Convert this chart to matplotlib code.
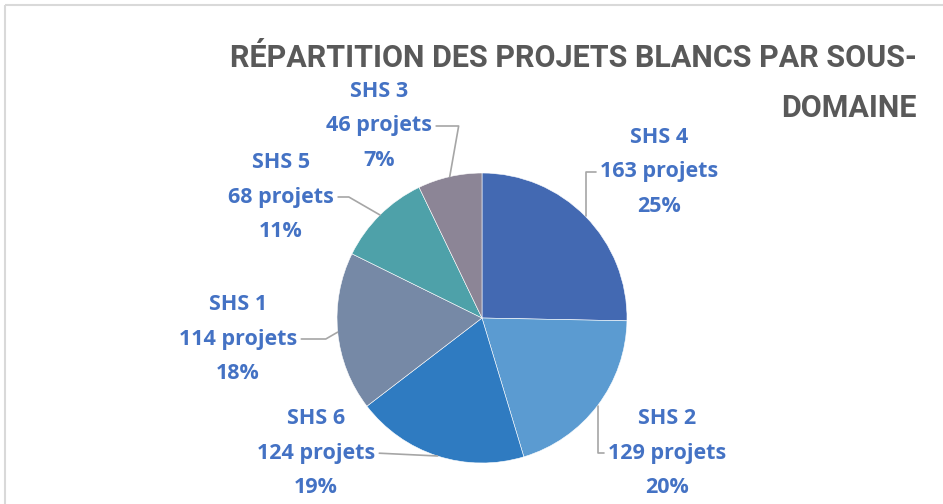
import matplotlib.pyplot as plt
import matplotlib.patches as mpatches
import numpy as np

# données du graphique
categories = ['SHS 4', 'SHS 2', 'SHS 6', 'SHS 1', 'SHS 5', 'SHS 3']
projets = [163, 129, 124, 114, 68, 46]
couleurs = ['#4369B2', '#5B9BD1', '#2F7BC1', '#7689A6', '#4EA1A9', '#8C8596']

titre_l1 = 'RÉPARTITION DES PROJETS BLANCS PAR SOUS-'
titre_l2 = 'DOMAINE'

# positions des étiquettes (en pixels, origine en haut à gauche)
pos_labels = [(659, 172), (667, 453), (316, 453), (238, 339), (281, 197), (379, 126)]
# style des lignes de rappel
styles = ['angle,angleA=0,angleB=90,rad=0', 'angle,angleA=0,angleB=90,rad=0', 'arc3',
          'angle,angleA=0,angleB=30,rad=0', 'angle,angleA=0,angleB=-30,rad=0',
          'angle,angleA=0,angleB=80,rad=0']
cotes = ['left', 'left', 'right', 'right', 'right', 'right']

W, H = 943, 504
fig = plt.figure(figsize=(W / 100, H / 100), dpi=100)
ax = fig.add_axes([0, 0, 1, 1])

# cadre gris clair (coupé à droite et en bas)
ax.add_patch(mpatches.Rectangle((5, 5), W + 20, H + 20, fill=False,
                                edgecolor='#D9D9D9', linewidth=1.5))

centre = (482, 318)
rayon = 145
wedges, _ = ax.pie(projets, colors=couleurs, startangle=-90, counterclock=True,
                   center=centre, radius=rayon, frame=True,
                   wedgeprops=dict(edgecolor='white', linewidth=0.4))
ax.set_xlim(0, W)
ax.set_ylim(H, 0)
ax.axis('off')

total = sum(projets)
for w, cat, n, pos, st, cote in zip(wedges, categories, projets, pos_labels, styles, cotes):
    ang = np.deg2rad((w.theta1 + w.theta2) / 2)
    xa = centre[0] + rayon * np.cos(ang)
    ya = centre[1] + rayon * np.sin(ang)
    pct = round(100 * n / total)
    texte = f'{cat}\n{n} projets\n{pct}%'
    relx = 0 if cote == 'left' else 1
    ax.annotate(texte, xy=(xa, ya), xytext=pos, ha='center', va='center',
                fontsize=15.5, fontweight='bold', color='#4472C4',
                family='Open Sans', linespacing=1.85,
                arrowprops=dict(arrowstyle='-', color='#A6A6A6', lw=1.2,
                                connectionstyle=st, relpos=(relx, 0.5),
                                shrinkA=1, shrinkB=0))

# titre sur deux lignes, aligné à droite
police_titre = dict(fontsize=22, fontweight='bold', color='#595959', family='Roboto')
ax.text(917, 58, titre_l1, ha='right', va='center', **police_titre)
ax.text(917, 108, titre_l2, ha='right', va='center', **police_titre)

fig.savefig('out.png', dpi=100)
